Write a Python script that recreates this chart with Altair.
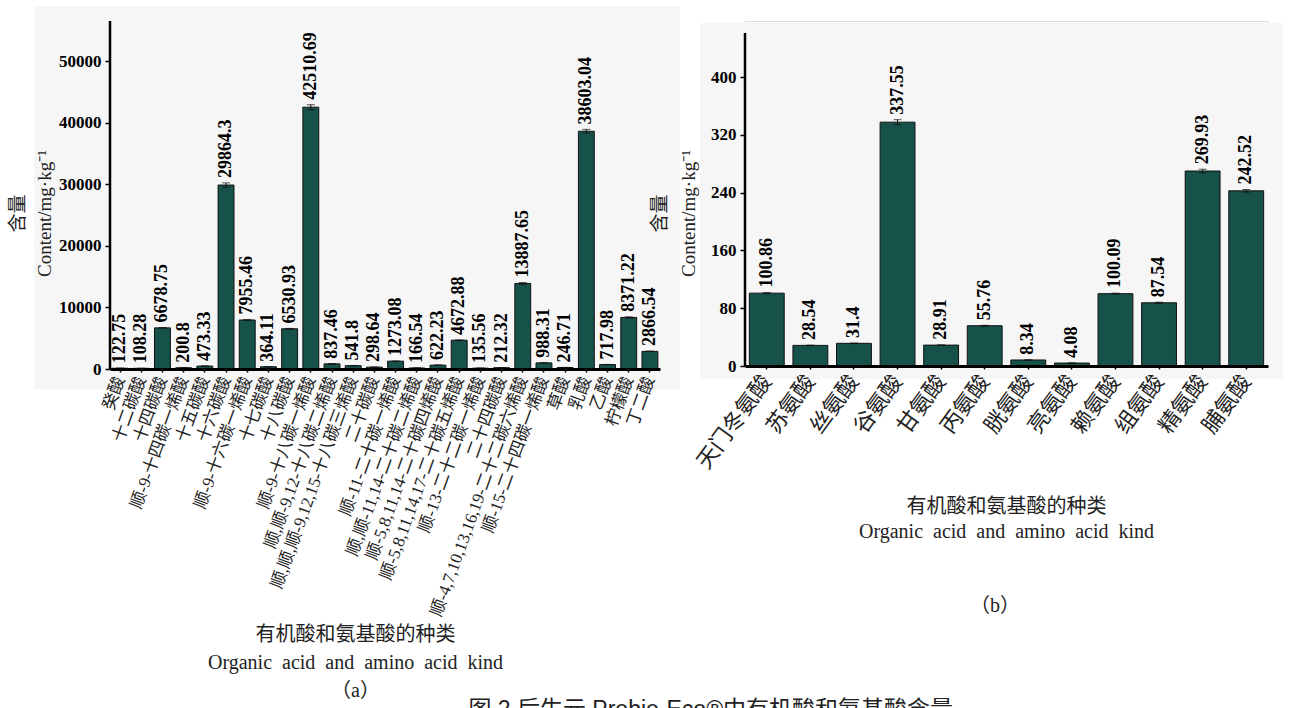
import altair as alt
import pandas as pd

# ---------------- data ----------------
left_names = [
    "癸酸", "十二碳酸", "十四碳酸", "顺-9-十四碳一烯酸", "十五碳酸", "十六碳酸",
    "顺-9-十六碳一烯酸", "十七碳酸", "十八碳酸", "顺-9-十八碳一烯酸",
    "顺,顺-9,12-十八碳二烯酸", "顺,顺,顺-9,12,15-十八碳三烯酸", "二十碳酸",
    "顺-11-二十碳一烯酸", "顺,顺-11,14-二十碳二烯酸", "顺-5,8,11,14-二十碳四烯酸",
    "顺-5,8,11,14,17-二十碳五烯酸", "顺-13-二十二碳一烯酸", "二十四碳酸",
    "顺-4,7,10,13,16,19-二十二碳六烯酸", "顺-15-二十四碳一烯酸",
    "草酸", "乳酸", "乙酸", "柠檬酸", "丁二酸",
]
left_values = [
    122.75, 108.28, 6678.75, 200.8, 473.33, 29864.3, 7955.46, 364.11, 6530.93,
    42510.69, 837.46, 541.8, 298.64, 1273.08, 166.54, 622.23, 4672.88, 135.56,
    212.32, 13887.65, 988.31, 246.71, 38603.04, 717.98, 8371.22, 2866.54,
]
left_errors = [
    10, 10, 60, 10, 15, 350, 80, 10, 60, 400, 20, 15, 10, 30, 10, 15, 50, 10,
    10, 150, 20, 10, 300, 20, 100, 40,
]

right_names = ["天门冬氨酸", "苏氨酸", "丝氨酸", "谷氨酸", "甘氨酸", "丙氨酸",
               "胱氨酸", "亮氨酸", "赖氨酸", "组氨酸", "精氨酸", "脯氨酸"]
right_values = [100.86, 28.54, 31.4, 337.55, 28.91, 55.76, 8.34, 4.08,
                100.09, 87.54, 269.93, 242.52]
right_errors = [0.8, 0.4, 0.4, 3.5, 0.4, 0.6, 0.3, 0.2, 0.8, 0.8, 2.5, 1.8]

left_ticks = [i * 5000 for i in range(12)]
right_ticks = [i * 40 for i in range(12)]
left_axis_top = 56500
right_axis_top = 461

x_title_cn = "有机酸和氨基酸的种类"
x_title_en = "Organic\u2002acid\u2002and\u2002amino\u2002acid\u2002kind"
y_title = ["含量", "Content/mg·kg⁻¹"]
panel_tags = ["（a）", "（b）"]
caption = "图 2  后生元 Probio-Eco®中有机酸和氨基酸含量"

# ---------------- style ----------------
BAR = "#16524a"
BG = "#f6f6f6"
SERIF = "Liberation Serif, Noto Sans CJK SC"


def panel(names, values, errors, width, height, ymax, axis_top, ticks, major,
          angle, label_size, label_pad, bg, x_title, x_title_lh, x_title_y,
          x_title_x, y_title_lh, y_title_pad, y_title_y, pad_inner, pad_outer,
          tag=None):
    df = pd.DataFrame({
        "name": names,
        "value": values,
        "lo": [v - e for v, e in zip(values, errors)],
        "hi": [v + e for v, e in zip(values, errors)],
        "label": [str(v) for v in values],
    })
    base = alt.Chart(df)
    x = alt.X(
        "name:N", sort=names,
        scale=alt.Scale(paddingInner=pad_inner, paddingOuter=pad_outer),
        axis=alt.Axis(
            title=x_title, titleFont=SERIF, titleFontSize=20,
            titleFontWeight="normal", titleColor="#222",
            titleLineHeight=x_title_lh, titleY=x_title_y, titleX=x_title_x,
            titleAlign="center", titleBaseline="top",
            labelAngle=angle, labelFont=SERIF, labelFontSize=label_size,
            labelColor="#222", labelPadding=label_pad, labelAlign="right",
            labelBaseline="middle", labelOverlap=False, labelLimit=400,
            domainColor="black", domainWidth=3, ticks=True, tickSize=3,
            tickColor="black", tickWidth=1.5, zindex=2,
        ),
    )
    y_scale = alt.Scale(domain=[0, ymax], nice=False, zero=True)
    y = alt.Y(
        "value:Q", scale=y_scale,
        axis=alt.Axis(
            values=ticks, labelExpr=f"datum.value % {major} == 0 ? datum.label : ''",
            format="d", labelFont=SERIF, labelFontSize=17, labelFontWeight="bold",
            labelColor="black", labelPadding=4, grid=False,
            domain=False, tickColor="black",
            tickSize=5, tickWidth=1.5, zindex=2,
            title=y_title, titleFont=SERIF, titleFontSize=19,
            titleFontWeight="normal", titleColor="#222",
            titleLineHeight=y_title_lh, titlePadding=y_title_pad,
            titleY=y_title_y, titleAlign="center",
        ),
    )
    one = pd.DataFrame({"k": [0]})
    x0, x1, y0, y1 = bg
    back = alt.Chart(one).mark_rect(color=BG).encode(
        x=alt.value(x0), x2=alt.value(x1), y=alt.value(y0), y2=alt.value(y1))
    yaxis_line = alt.Chart(one).mark_rule(color="black", strokeWidth=2.5).encode(
        x=alt.value(0), y=alt.datum(0, scale=y_scale), y2=alt.datum(axis_top))
    bars = base.mark_bar(color=BAR, stroke="#111", strokeWidth=1).encode(x=x, y=y)
    err = base.mark_rule(color="#111", strokeWidth=1).encode(
        x=alt.X("name:N", sort=names), y=alt.Y("lo:Q", scale=y_scale), y2="hi:Q")
    cap_hi = base.mark_tick(color="#111", thickness=1, size=8).encode(
        x=alt.X("name:N", sort=names), y=alt.Y("hi:Q", scale=y_scale))
    cap_lo = base.mark_tick(color="#111", thickness=1, size=8).encode(
        x=alt.X("name:N", sort=names), y=alt.Y("lo:Q", scale=y_scale))
    text = base.mark_text(
        angle=270, align="left", baseline="middle", dx=5, font=SERIF,
        fontSize=18, fontWeight="bold", color="black",
    ).encode(x=alt.X("name:N", sort=names), y=alt.Y("hi:Q", scale=y_scale),
             text="label:N")
    layers = [back, bars, err, cap_hi, cap_lo, text, yaxis_line]
    if tag is not None:
        tag_text, tx, ty = tag
        layers.append(
            alt.Chart(pd.DataFrame({"t": [tag_text]})).mark_text(
                font=SERIF, fontSize=20, color="#222", align="center",
                baseline="middle",
            ).encode(x=alt.value(tx), y=alt.value(ty), text="t:N")
        )
    return alt.layer(*layers).properties(width=width, height=height)


left = panel(
    left_names, left_values, left_errors, 550, 348, 56500, left_axis_top,
    left_ticks, 10000, -70, 17, 5, (-76, 570, -15, 368),
    [x_title_cn, x_title_en, panel_tags[0]], 28, 255, 245, 27, 4, 192, 0.25, 0.1,
)
# right plot area is taller (starts at the same top) with its own axis top
right = panel(
    right_names, right_values, right_errors, 523, 345,
    right_axis_top * 345 / 333, right_axis_top,
    right_ticks, 80, -54, 22, 8, (-45, 538, 2, 358),
    [x_title_cn, x_title_en], 25, 130, 261, 29, 12, 192, 0.2, 0.1,
    tag=(panel_tags[1], 250, 585),
)

chart = alt.hconcat(left, right, spacing=-31).properties(
    padding={"left": 8, "top": 5, "right": 0, "bottom": 0},
    title=alt.TitleParams(
        caption, orient="bottom", anchor="middle", dx=65, offset=-2,
        font="Liberation Sans, Noto Sans CJK SC", fontSize=23,
        fontWeight="normal", color="#222",
    ),
).configure_view(stroke=None).configure(background="white")

chart.save("out.html", embed_options={"renderer": "svg", "actions": False})
